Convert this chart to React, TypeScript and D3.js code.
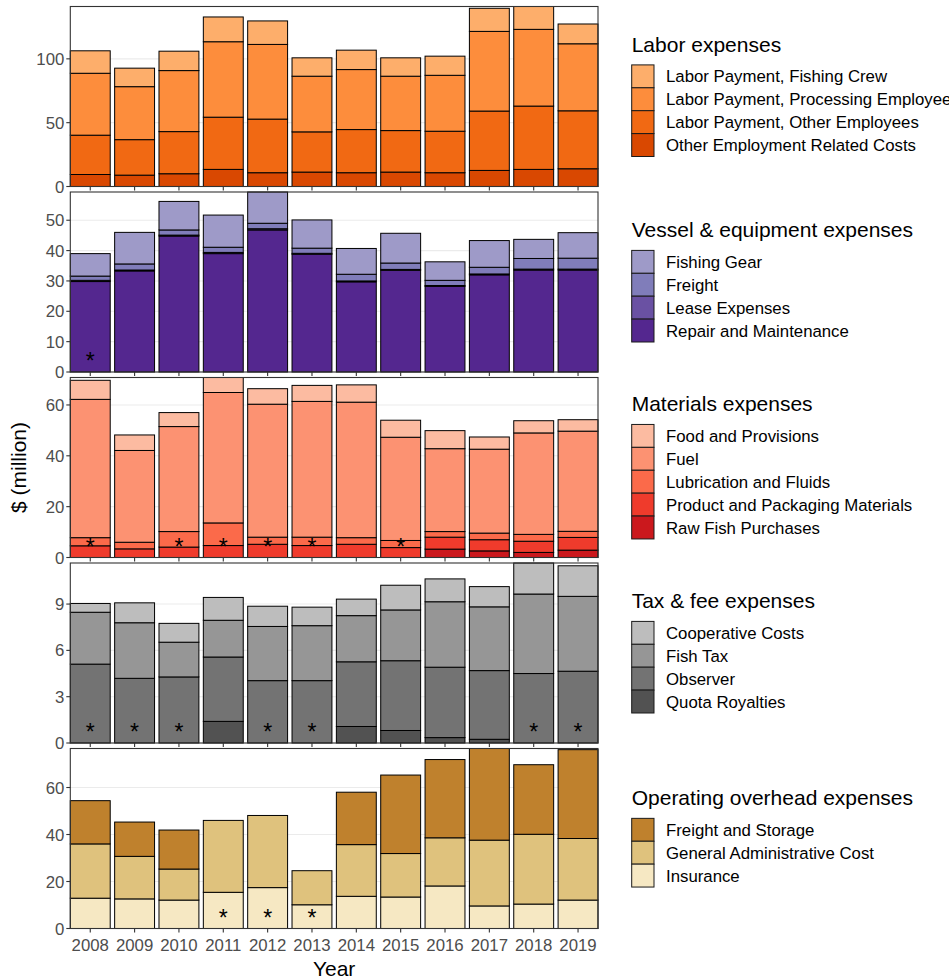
import React from 'react';
import * as d3 from 'd3';

// ---------- DATA ----------
const years = ['2008', '2009', '2010', '2011', '2012', '2013', '2014', '2015', '2016', '2017', '2018', '2019'];

// Labor expenses ($ million)
const laborNames = ['Labor Payment, Fishing Crew', 'Labor Payment, Processing Employees', 'Labor Payment, Other Employees', 'Other Employment Related Costs'];
const laborColors = ['#fdae6b', '#fd8d3c', '#f16913', '#d94801'];
const laborFishingCrew = [17.6, 14.5, 15.2, 19.4, 18.4, 14.4, 15.2, 14.4, 15.0, 18.1, 17.9, 15.5];
const laborProcessing = [48.5, 41.5, 47.8, 59.1, 58.5, 43.6, 47.0, 42.6, 43.8, 62.4, 60.1, 52.5];
const laborOtherEmployees = [30.8, 27.8, 33.0, 40.9, 42.0, 31.5, 33.8, 32.5, 32.5, 46.5, 49.6, 45.4];
const laborOtherCosts = [9.4, 8.9, 10.0, 13.4, 10.8, 11.3, 10.8, 11.3, 10.8, 12.6, 13.4, 13.9];
const laborTicks = [0, 50, 100];
const laborStars: string[] = [];

// Vessel & equipment expenses
const vesselNames = ['Fishing Gear', 'Freight', 'Lease Expenses', 'Repair and Maintenance'];
const vesselColors = ['#9e9ac8', '#807dba', '#6a51a3', '#54278f'];
const vesselGear = [7.4, 10.4, 9.4, 10.6, 10.3, 9.3, 8.5, 9.8, 6.1, 8.8, 6.3, 8.4];
const vesselFreight = [1.4, 2.0, 1.7, 1.7, 1.8, 1.7, 2.2, 2.1, 1.7, 2.2, 3.5, 3.6];
const vesselLease = [0.4, 0.3, 0.3, 0.4, 0.4, 0.3, 0.3, 0.3, 0.3, 0.3, 0.3, 0.3];
const vesselRepair = [29.8, 33.3, 44.8, 39.0, 46.8, 38.8, 29.7, 33.5, 28.2, 32.0, 33.6, 33.6];
const vesselTicks = [0, 10, 20, 30, 40, 50];
const vesselStars = ['2008'];

// Materials expenses
const materialsNames = ['Food and Provisions', 'Fuel', 'Lubrication and Fluids', 'Product and Packaging Materials', 'Raw Fish Purchases'];
const materialsColors = ['#fcbba1', '#fc9272', '#fb6a4a', '#ef3b2c', '#cb181d'];
const matFood = [7.5, 6.1, 5.5, 5.9, 6.1, 6.3, 6.8, 6.7, 7.1, 4.8, 4.8, 4.5];
const matFuel = [54.4, 36.1, 41.3, 51.3, 52.3, 53.4, 53.3, 40.6, 32.6, 33.0, 39.9, 39.4];
const matLubrication = [3.2, 2.6, 6.1, 8.9, 2.8, 3.3, 2.6, 2.8, 2.2, 2.6, 2.7, 2.4];
const matPackaging = [4.6, 3.4, 4.1, 4.7, 5.2, 4.7, 5.2, 3.9, 4.7, 4.4, 4.4, 5.0];
const matRawFish = [0, 0, 0, 0, 0, 0, 0, 0, 3.3, 2.6, 2.0, 2.9];
const materialsTicks = [0, 20, 40, 60];
const materialsStars = ['2008', '2010', '2011', '2012', '2013', '2015'];

// Tax & fee expenses
const taxNames = ['Cooperative Costs', 'Fish Tax', 'Observer', 'Quota Royalties'];
const taxColors = ['#bdbdbd', '#969696', '#737373', '#525252'];
const taxCooperative = [0.57, 1.29, 1.22, 1.48, 1.31, 1.20, 1.07, 1.60, 1.48, 1.31, 2.01, 1.98];
const taxFishTax = [3.36, 3.60, 2.25, 2.38, 3.51, 3.56, 2.99, 3.29, 4.24, 4.13, 5.15, 4.85];
const taxObserver = [5.11, 4.19, 4.28, 4.17, 4.04, 4.04, 4.19, 4.52, 4.56, 4.45, 4.50, 4.65];
const taxQuota = [0, 0, 0, 1.40, 0, 0, 1.07, 0.81, 0.35, 0.24, 0, 0];
const taxTicks = [0, 3, 6, 9];
const taxStars = ['2008', '2009', '2010', '2012', '2013', '2018', '2019'];

// Operating overhead expenses
const overheadNames = ['Freight and Storage', 'General Administrative Cost', 'Insurance'];
const overheadColors = ['#bf812d', '#dfc27d', '#f6e8c3'];
const ohFreightStorage = [18.4, 14.6, 16.6, 0, 0, 0, 22.3, 33.4, 33.3, 39.0, 29.6, 37.8];
const ohGeneralAdmin = [23.1, 18.1, 13.2, 30.6, 30.7, 14.5, 22.0, 18.5, 20.5, 28.0, 29.7, 26.2];
const ohInsurance = [12.9, 12.6, 12.1, 15.4, 17.4, 10.1, 13.7, 13.4, 18.1, 9.6, 10.4, 12.1];
const overheadTicks = [0, 20, 40, 60];
const overheadStars = ['2011', '2012', '2013'];

// ---------- GROUPS (legend order: top of stack first) ----------
const groups = [
  { title: 'Labor expenses', names: laborNames, colors: laborColors, series: [laborFishingCrew, laborProcessing, laborOtherEmployees, laborOtherCosts], ticks: laborTicks, stars: laborStars },
  { title: 'Vessel & equipment expenses', names: vesselNames, colors: vesselColors, series: [vesselGear, vesselFreight, vesselLease, vesselRepair], ticks: vesselTicks, stars: vesselStars },
  { title: 'Materials expenses', names: materialsNames, colors: materialsColors, series: [matFood, matFuel, matLubrication, matPackaging, matRawFish], ticks: materialsTicks, stars: materialsStars },
  { title: 'Tax & fee expenses', names: taxNames, colors: taxColors, series: [taxCooperative, taxFishTax, taxObserver, taxQuota], ticks: taxTicks, stars: taxStars },
  { title: 'Operating overhead expenses', names: overheadNames, colors: overheadColors, series: [ohFreightStorage, ohGeneralAdmin, ohInsurance], ticks: overheadTicks, stars: overheadStars },
];

// ---------- LAYOUT ----------
const W = 949;
const H = 979;
const panelLeft = 70.3;
const panelRight = 598;
const panelTop0 = 6.5;
const panelH = 180;
const panelGap = 5.5;
const FONT = '"Liberation Sans", Arial, Helvetica, sans-serif';
const axisFont = 16.8;
const titleFont = 21;
const keyW = 22.3;
const keyH = 22.9;
const legendX = 631.7;
const legendTextX = 666;

const x = d3.scaleBand<string>().domain(years).range([panelLeft, panelRight]).paddingInner(0.1).paddingOuter(0);

function Panel({ g, idx }: { g: typeof groups[number]; idx: number }) {
  const top = panelTop0 + idx * (panelH + panelGap);
  const bottom = top + panelH;
  const keysBottomUp = g.names.map((_, i) => i).reverse();
  const rows = years.map((yr, j) => {
    const r: Record<string, number | string> = { year: yr };
    g.series.forEach((s, i) => { r['k' + i] = s[j]; });
    return r;
  });
  const stack = d3.stack<Record<string, number | string>>().keys(keysBottomUp.map((i) => 'k' + i));
  const layers = stack(rows as any);
  const totals = years.map((_, j) => d3.sum(g.series, (s) => s[j]));
  const y = d3.scaleLinear().domain([0, d3.max(totals) as number]).range([bottom, top]);
  const bw = x.bandwidth();
  return (
    <g>
      <rect x={panelLeft} y={top} width={panelRight - panelLeft} height={panelH} fill="#ffffff" />
      {g.ticks.map((t) => (
        <line key={'g' + t} x1={panelLeft} x2={panelRight} y1={y(t)} y2={y(t)} stroke="#ebebeb" strokeWidth={1.1} />
      ))}
      {layers.map((layer) => {
        const i = +String(layer.key).slice(1);
        return (
          <g key={layer.key}>
            {layer.map((d, j) => {
              if (d[1] - d[0] <= 0) return null;
              return (
                <rect key={j} x={x(years[j])} y={y(d[1])} width={bw} height={y(d[0]) - y(d[1])} fill={g.colors[i]} stroke="#000" strokeWidth={1} />
              );
            })}
          </g>
        );
      })}
      {g.stars.map((s) => (
        <text key={'s' + s} x={(x(s) as number) + bw / 2} y={bottom - 3} textAnchor="middle" fontFamily={FONT} fontSize={23} fill="#000">*</text>
      ))}
      <rect x={panelLeft} y={top} width={panelRight - panelLeft} height={panelH} fill="none" stroke="#333333" strokeWidth={1.1} />
      {g.ticks.map((t) => (
        <g key={'t' + t}>
          <line x1={panelLeft - 4} x2={panelLeft} y1={y(t)} y2={y(t)} stroke="#333333" strokeWidth={1.1} />
          <text x={panelLeft - 6} y={y(t)} dy="0.36em" textAnchor="end" fontFamily={FONT} fontSize={axisFont} fill="#4d4d4d">{t}</text>
        </g>
      ))}
      {years.map((yr) => (
        <line key={'xt' + yr} x1={(x(yr) as number) + bw / 2} x2={(x(yr) as number) + bw / 2} y1={bottom} y2={bottom + 4} stroke="#333333" strokeWidth={1.1} />
      ))}
    </g>
  );
}

function Legend({ g, idx }: { g: typeof groups[number]; idx: number }) {
  const top = panelTop0 + idx * (panelH + panelGap);
  const center = top + panelH / 2;
  const blockH = 28.4 + g.names.length * keyH;
  const capTop = center - blockH / 2;
  const baseline = capTop + 15.4;
  const keysTop = capTop + 28.4;
  return (
    <g>
      <text x={legendX} y={baseline} fontFamily={FONT} fontSize={titleFont} fill="#000">{g.title}</text>
      {g.names.map((n, i) => (
        <g key={n}>
          <rect x={legendX} y={keysTop + i * keyH} width={keyW} height={keyH} fill={g.colors[i]} stroke="#1a1a1a" strokeWidth={1} />
          <text x={legendTextX} y={keysTop + i * keyH + keyH / 2} dy="0.36em" fontFamily={FONT} fontSize={axisFont} fill="#000">{n}</text>
        </g>
      ))}
    </g>
  );
}

export default function App() {
  const lastBottom = panelTop0 + 5 * panelH + 4 * panelGap;
  const bw = x.bandwidth();
  return (
    <svg width={W} height={H} style={{ position: 'absolute', left: 0, top: 0, background: '#fff' }}>
      <rect x={0} y={0} width={W} height={H} fill="#ffffff" />
      {groups.map((g, i) => <Panel key={g.title} g={g} idx={i} />)}
      {groups.map((g, i) => <Legend key={'l' + g.title} g={g} idx={i} />)}
      {years.map((yr) => (
        <text key={'xl' + yr} x={(x(yr) as number) + bw / 2} y={lastBottom + 22.5} textAnchor="middle" fontFamily={FONT} fontSize={axisFont} fill="#4d4d4d">{yr}</text>
      ))}
      <text x={(panelLeft + panelRight) / 2} y={lastBottom + 47} textAnchor="middle" fontFamily={FONT} fontSize={titleFont} fill="#000">Year</text>
      <text transform={`translate(${25.5},${(panelTop0 + lastBottom) / 2}) rotate(-90)`} textAnchor="middle" fontFamily={FONT} fontSize={titleFont} fill="#000">$ (million)</text>
    </svg>
  );
}
